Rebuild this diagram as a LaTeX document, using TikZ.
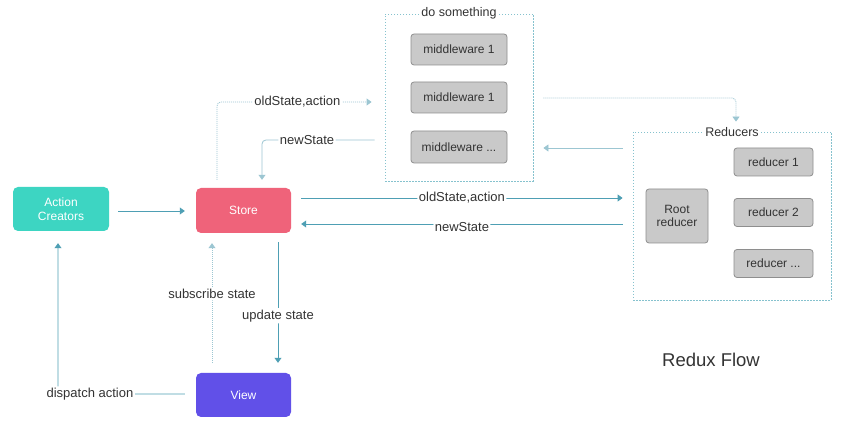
\documentclass[tikz,border=0pt]{standalone}
\usepackage{fontspec}
\setmainfont{Liberation Sans}
\usetikzlibrary{arrows.meta,calc}
\definecolor{acteal}{HTML}{3DD5C2}
\definecolor{storered}{HTML}{EF637A}
\definecolor{viewblue}{HTML}{6150E8}
\definecolor{boxgray}{HTML}{C9C9C9}
\definecolor{boxedge}{HTML}{8E8E8E}
\definecolor{lineblue}{HTML}{4E9FB4}
\definecolor{lightline}{HTML}{9CC6D2}
\definecolor{dashline}{HTML}{86C2CE}
\definecolor{txt}{HTML}{333333}
\tikzset{
  colbox/.style={rounded corners=5pt, minimum width=95pt, minimum height=44pt, text=white, font=\fontsize{12}{13.5}\selectfont, align=center, inner sep=0pt},
  graybox/.style={rounded corners=3pt, draw=boxedge, fill=boxgray, line width=0.8pt, text=txt, font=\fontsize{12}{13.5}\selectfont, align=center, inner sep=0pt},
  groupbox/.style={draw=dashline, line width=0.8pt, dash pattern=on 1.5pt off 1.5pt, inner sep=0pt},
  arr/.style={draw=lineblue, line width=0.8pt, -{Triangle[width=7pt,length=5pt]}, rounded corners=4pt},
  larr/.style={draw=lightline, line width=0.8pt, -{Triangle[width=7pt,length=5pt]}, rounded corners=4pt},
  darr/.style={draw=lightline, line width=0.8pt, dash pattern=on 1pt off 1pt, -{Triangle[width=7pt,length=5pt]}, rounded corners=4pt},
  lbl/.style={fill=white, text=txt, font=\fontsize{13}{15}\selectfont, inner sep=1.5pt},
  grplbl/.style={fill=white, text=txt, font=\fontsize{12.5}{14}\selectfont, inner sep=1pt}
}
\begin{document}
\begin{tikzpicture}[x=1pt,y=-1pt]
\useasboundingbox[fill=white] (0,0) rectangle (847,427);

% main boxes
\node[colbox, fill=acteal, minimum width=96pt] (ac) at (61,209) {Action\\Creators};
\node[colbox, fill=storered, minimum height=45pt] (store) at (243.5,210.5) {Store};
\node[colbox, fill=viewblue] (view) at (243.5,395) {View};

% middleware group
\node[groupbox, minimum width=148pt, minimum height=167pt] (mwbox) at (459,97.5) {};
\node[grplbl] (mwlbl) at (mwbox.north) {do something};
\node[graybox, minimum width=96pt, minimum height=31pt] (mw1) at (459,49.5) {middleware 1};
\node[graybox, minimum width=96pt, minimum height=31pt] (mw2) at (459,97.5) {middleware 1};
\node[graybox, minimum width=96pt, minimum height=32pt] (mw3) at (459,147) {middleware ...};

% reducers group
\node[groupbox, minimum width=198pt, minimum height=168pt] (red) at (732,216) {};
\node[grplbl] (redlbl) at (red.north) {Reducers};
\node[graybox, minimum width=62pt, minimum height=54pt] (root) at (677,216) {Root\\reducer};
\node[graybox, minimum width=79pt, minimum height=28pt] (r1) at (773.5,162) {reducer 1};
\node[graybox, minimum width=79pt, minimum height=28pt] (r2) at (773.5,212.5) {reducer 2};
\node[graybox, minimum width=79pt, minimum height=28pt] (r3) at (773.5,263.5) {reducer ...};

% title
\node[text=txt, font=\fontsize{18.5}{22}\selectfont] (title) at (711,360) {Redux Flow};

% connectors
\draw[arr] ($(ac.east)+(9,2)$) -- ($(store.west)+(-11,0.5)$);

\coordinate (s1) at ($(store.east)+(10,-12.5)$);
\coordinate (redin) at ($(red.west)+(-10,0)$);
\draw[arr] (s1) -- node[lbl, pos=0.5] {oldState,action} (s1 -| redin);

\coordinate (s2) at ($(store.east)+(10,13.5)$);
\draw[arr] (s2 -| redin) -- node[lbl, pos=0.5, yshift=-3pt] {newState} (s2);

\draw[darr] ($(store.north)+(-26.5,-8)$) |- node[lbl, pos=0.76] {oldState,action} ($(mwbox.west)+(-13,4.5)$);

\draw[larr] ($(mwbox.west)+(-10,42.5)$) -| node[lbl, pos=0.3] {newState} ($(store.north)+(18.5,-8)$);

\draw[darr] ($(mwbox.east)+(10,0.5)$) -| ($(red.north)+(4,-10)$);

\coordinate (r0) at ($(red.west)+(-10,-68)$);
\coordinate (mwout) at ($(mwbox.east)+(10,0)$);
\draw[larr] (r0) -- (r0 -| mwout);

\draw[arr] ($(view.west)+(-11,-1)$) -| node[lbl, pos=0.374] {dispatch action} ($(ac.south)+(-3,12)$);

\draw[darr] ($(view.north)+(-31.5,-10)$) -- node[lbl, pos=0.575] {subscribe state} ($(store.south)+(-31.5,10)$);

\draw[arr] ($(store.south)+(34.5,9)$) -- node[lbl, pos=0.61] {update state} ($(view.north)+(34.5,-10)$);
\end{tikzpicture}
\end{document}
